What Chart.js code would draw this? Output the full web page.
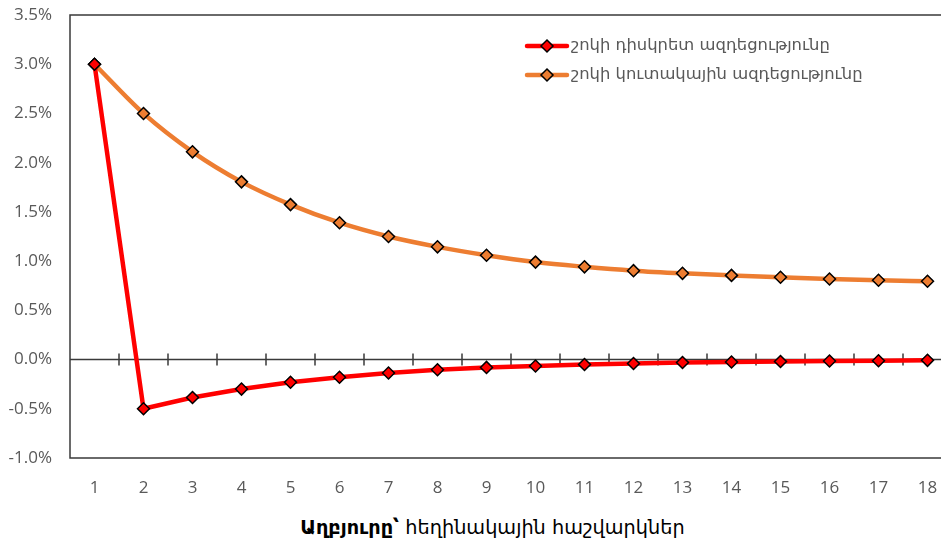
<!DOCTYPE html>
<html>
<head>
<meta charset="utf-8">
<script src="https://cdn.jsdelivr.net/npm/chart.js@4/dist/chart.umd.min.js"></script>
<style>
  html, body { margin: 0; padding: 0; background: #ffffff; overflow: hidden; }
  #wrap { position: relative; width: 941px; height: 544px; overflow: hidden; background: #fff; }
  #c { position: absolute; left: 0; top: 0; }
  #src { position: absolute; left: 22px; width: 941px; top: 516px; text-align: center;
         font-family: "DejaVu Sans", "Noto Sans", sans-serif; font-size: 19.3px; color: #000; white-space: nowrap; }
  #src b { font-weight: bold; }
</style>
</head>
<body>
<div id="wrap">
  <canvas id="c" width="960" height="500"></canvas>
  <div id="src"><b>Աղբյուրը՝</b> հեղինակային հաշվարկներ</div>
</div>
<script>
const categories = ["1","2","3","4","5","6","7","8","9","10","11","12","13","14","15","16","17","18"];
const seriesNames = ["շոկի դիսկրետ ազդեցությունը", "շոկի կուտակային ազդեցությունը"];
const discrete = [3.0, -0.5, -0.385, -0.30, -0.23, -0.18, -0.137, -0.103, -0.08, -0.066, -0.05, -0.04, -0.03, -0.025, -0.02, -0.015, -0.012, -0.008];
const cumulative = [3.0, 2.5, 2.11, 1.805, 1.574, 1.39, 1.25, 1.145, 1.06, 0.99, 0.942, 0.903, 0.876, 0.855, 0.836, 0.818, 0.805, 0.795];
const yTicks = [-1.0, -0.5, 0.0, 0.5, 1.0, 1.5, 2.0, 2.5, 3.0, 3.5];

const seriesColors = ["#FF0000", "#ED7D31"];
const axisColor = "#3a3a3a";
const labelColor = "#595959";

const framePlugin = {
  id: "frame",
  beforeDatasetsDraw(chart) {
    const { ctx, chartArea: a, scales } = chart;
    ctx.save();
    ctx.strokeStyle = axisColor;
    ctx.lineWidth = 1.5;
    ctx.beginPath();
    ctx.moveTo(a.right + 5, a.top);
    ctx.lineTo(a.left, a.top);
    ctx.lineTo(a.left, a.bottom);
    ctx.lineTo(a.right + 5, a.bottom);
    ctx.stroke();
    // zero axis line with cross tick marks at category boundaries
    const y0 = scales.y.getPixelForValue(0);
    ctx.beginPath();
    ctx.moveTo(a.left, y0);
    ctx.lineTo(a.right + 5, y0);
    const n = categories.length;
    for (let i = 0; i < n - 1; i++) {
      const xm = (scales.x.getPixelForValue(i) + scales.x.getPixelForValue(i + 1)) / 2;
      ctx.moveTo(xm, y0 - 6);
      ctx.lineTo(xm, y0 + 6);
    }
    ctx.stroke();
    ctx.restore();
  }
};

const legendPlugin = {
  id: "customLegend",
  afterDraw(chart) {
    const { ctx } = chart;
    const rows = [46, 75];
    ctx.save();
    chart.data.datasets.forEach((ds, i) => {
      const y = rows[i];
      ctx.strokeStyle = ds.borderColor;
      ctx.lineWidth = 4.5;
      ctx.lineCap = "round";
      ctx.beginPath();
      ctx.moveTo(527, y);
      ctx.lineTo(567, y);
      ctx.stroke();
      const cx = 547, r = 6;
      ctx.beginPath();
      ctx.moveTo(cx, y - r); ctx.lineTo(cx + r, y); ctx.lineTo(cx, y + r); ctx.lineTo(cx - r, y); ctx.closePath();
      ctx.fillStyle = ds.pointBackgroundColor;
      ctx.fill();
      ctx.strokeStyle = "#000";
      ctx.lineWidth = 1.5;
      ctx.lineCap = "butt";
      ctx.stroke();
      ctx.fillStyle = labelColor;
      ctx.font = '16.4px "DejaVu Sans", "Noto Sans", sans-serif';
      ctx.textBaseline = "middle";
      ctx.textAlign = "left";
      ctx.fillText(ds.label, 571, y);
    });
    ctx.restore();
  }
};

new Chart(document.getElementById("c"), {
  type: "line",
  data: {
    labels: categories,
    datasets: [
      {
        label: seriesNames[0],
        data: discrete,
        borderColor: seriesColors[0],
        backgroundColor: seriesColors[0],
        pointBackgroundColor: seriesColors[0],
        borderWidth: 4.5,
        pointStyle: "rectRot",
        pointRadius: 6,
        pointBorderColor: "#000",
        pointBorderWidth: 1.5,
        tension: 0,
        order: 1
      },
      {
        label: seriesNames[1],
        data: cumulative,
        borderColor: seriesColors[1],
        backgroundColor: seriesColors[1],
        pointBackgroundColor: seriesColors[1],
        borderWidth: 4.5,
        pointStyle: "rectRot",
        pointRadius: 6,
        pointBorderColor: "#000",
        pointBorderWidth: 1.5,
        cubicInterpolationMode: "monotone",
        order: 2
      }
    ]
  },
  options: {
    responsive: false,
    animation: false,
    devicePixelRatio: 1,
    layout: { padding: { left: 0, right: 8, top: 15, bottom: 0 } },
    plugins: { legend: { display: false }, tooltip: { enabled: false } },
    scales: {
      x: {
        offset: true,
        grid: { display: false, drawTicks: false, offset: true },
        border: { display: false },
        ticks: { color: labelColor, font: { family: "'Open Sans', 'Noto Sans', sans-serif", size: 17 }, padding: 20, maxRotation: 0, autoSkip: false },
        afterFit(s) { s.height = 42; s.paddingLeft = 0; s.paddingRight = 0; }
      },
      y: {
        min: -1.0,
        max: 3.5,
        afterBuildTicks(s) { s.ticks = yTicks.map(v => ({ value: v })); },
        grid: { display: false, drawTicks: false },
        border: { display: false },
        ticks: {
          color: labelColor,
          font: { family: "'Open Sans', 'Noto Sans', sans-serif", size: 17 },
          padding: 18,
          callback: v => Number(v).toFixed(1) + "%"
        },
        afterFit(s) { s.width = 70; s.paddingTop = 0; s.paddingBottom = 0; }
      }
    }
  },
  plugins: [framePlugin, legendPlugin]
});
</script>
</body>
</html>
